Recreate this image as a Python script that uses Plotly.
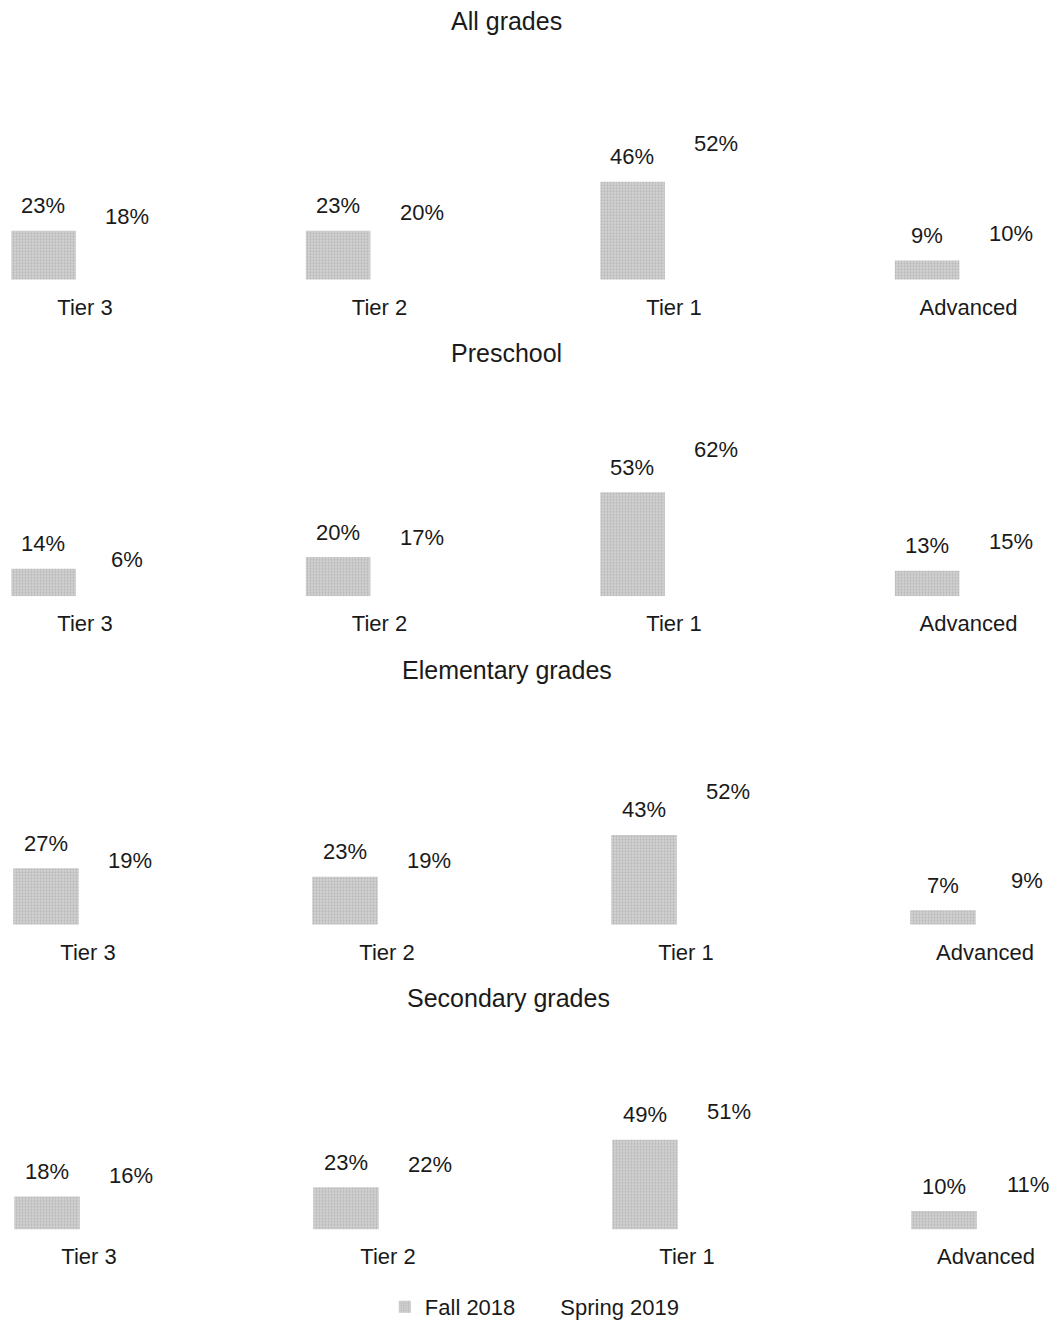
import plotly.graph_objects as go

W, H = 1058, 1328

categories = ["Tier 3", "Tier 2", "Tier 1", "Advanced"]
panel_titles = ["All grades", "Preschool", "Elementary grades", "Secondary grades"]
fall_2018 = [
    [23, 23, 46, 9],
    [14, 20, 53, 13],
    [27, 23, 43, 7],
    [18, 23, 49, 10],
]
spring_2019 = [
    [18, 20, 52, 10],
    [6, 17, 62, 15],
    [19, 19, 52, 9],
    [16, 22, 51, 11],
]
series_names = ["Fall 2018", "Spring 2019"]

# layout geometry in pixels (from top)
panel_geom = [
    # baseline_px, top_px, px_per_pct, first_cat_center_px, cat_spacing_px, title_y_px, title_x_px
    (281, 40, 2.14, 85, 294.5, 21, 506),
    (599, 380, 1.97, 85, 294.5, 355, 506),
    (929, 700, 2.10, 88, 299.0, 673, 507),
    (1235, 1030, 1.84, 89, 299.0, 1003, 508),
]

FONT = "Liberation Sans, Arial, sans-serif"
TXT = "#1a1a1a"
FALL_COLOR = "#c4c4c4"


def py(px):
    return 1 - px / H


fig = go.Figure()
annotations = []
layout_axes = {}

for i in range(4):
    base, top, ppp, c0, sp, ty, tx = panel_geom[i]
    sfx = "" if i == 0 else str(i + 1)
    xref = "x" + sfx
    yref = "y" + sfx
    fig.add_trace(go.Bar(
        x=categories, y=fall_2018[i], name=series_names[0],
        marker=dict(color=FALL_COLOR,
                    pattern=dict(shape=".", fgcolor="#9a9a9a", bgcolor="#d0d0d0", size=3, solidity=0.35),
                    line=dict(width=0)),
        xaxis=xref, yaxis=yref, showlegend=(i == 0), legendgroup="fall",
    ))
    fig.add_trace(go.Bar(
        x=categories, y=spring_2019[i], name=series_names[1],
        marker=dict(color="#ffffff", line=dict(width=0)),
        xaxis=xref, yaxis=yref, showlegend=(i == 0), legendgroup="spring",
    ))
    y_rng = (base - top) / ppp
    x_lo = (0 - c0) / sp
    x_hi = (W - c0) / sp
    layout_axes["xaxis" + sfx] = dict(
        domain=[0, 1], anchor=yref, type="category", range=[x_lo, x_hi],
        showgrid=False, zeroline=False, showline=False, ticks="",
        tickfont=dict(family=FONT, size=22, color=TXT), ticklabelstandoff=12,
    )
    layout_axes["yaxis" + sfx] = dict(
        domain=[py(base), py(top)], anchor=xref, range=[0, y_rng],
        visible=False, showgrid=False, zeroline=False,
    )
    for vals, sh in ((fall_2018[i], -42), (spring_2019[i], 42)):
        for c, v in zip(categories, vals):
            annotations.append(dict(
                x=c, y=v, xref=xref, yref=yref, text=f"{v}%", showarrow=False,
                xshift=sh, yshift=25, yanchor="middle", xanchor="center",
                font=dict(family=FONT, size=22, color=TXT),
            ))
    annotations.append(dict(
        x=tx / W, y=py(ty), xref="paper", yref="paper", text=panel_titles[i],
        showarrow=False, xanchor="center", yanchor="middle",
        font=dict(family=FONT, size=25, color=TXT),
    ))

fig.update_layout(
    width=W, height=H,
    margin=dict(l=0, r=0, t=0, b=0),
    paper_bgcolor="white", plot_bgcolor="white",
    barmode="group", bargap=0.438, bargroupgap=0.22,
    showlegend=True,
    legend=dict(orientation="h", x=0.5055, xanchor="center", y=py(1313), yanchor="middle",
                font=dict(family=FONT, size=22, color=TXT), bgcolor="rgba(0,0,0,0)",
                traceorder="normal"),
    annotations=annotations,
    **layout_axes,
)

fig.write_html("out.html")
